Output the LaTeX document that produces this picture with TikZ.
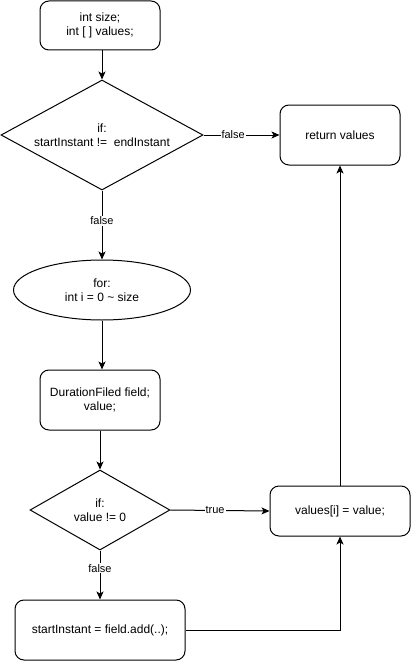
\documentclass[tikz,border=0pt]{standalone}
\usepackage{fontspec}
\setmainfont{Liberation Sans}
\usetikzlibrary{shapes.geometric,arrows.meta}
\begin{document}
\begin{tikzpicture}[x=1pt,y=-1pt,line width=1pt,
  txt/.style={font=\fontsize{12}{14.5}\selectfont,align=center,inner sep=0pt},
  proc/.style={draw,rounded corners=9pt,txt,minimum width=#1},
  dec/.style={draw,diamond,inner sep=0pt},
  arr/.style={-{Stealth[length=8pt,width=7pt,inset=2pt]}},
  lbl/.style={font=\fontsize{11}{13}\selectfont,fill=white,inner sep=1pt}]
\useasboundingbox (0,0) rectangle (411,661);

% process boxes
\node[proc=120,minimum height=49] (init) at (100,25.5) {int size;\\int [ ] values;};
\node[proc=120,minimum height=60] (ret) at (340,135) {return values};
\node[proc=120,minimum height=60] (decl) at (100,400) {DurationFiled field;\\value;};
\node[proc=140,minimum height=50] (assign) at (340,511) {values[i] = value;};
\node[proc=170,minimum height=60] (advance) at (100,630) {startInstant = field.add(..);};

% decisions
\node[dec,minimum width=202,minimum height=110] (check) at (102,135) {};
\node[txt] (checktxt) at (102,135) {if:\\startInstant !=\ \ endInstant};
\node[dec,minimum width=140,minimum height=80] (zero) at (100,510) {};
\node[txt] (zerotxt) at (100,510) {if:\\value != 0};

% loop header
\node[draw,ellipse,txt,minimum width=177,minimum height=60] (loop) at (102,290) {for:\\int i = 0 \textasciitilde{} size};

% connectors
\draw[arr] (init.south -| check.north) -- (check.north);
\draw[arr] (check.east) -- node[lbl,pos=0.39] {false} (ret.west);
\draw[arr] (check.south) -- node[lbl,pos=0.44] {false} (loop.north);
\draw[arr] (loop.south) -- (loop.south |- decl.north);
\draw[arr] (decl.south) -- (zero.north);
\draw[arr] (zero.east) -- node[lbl,pos=0.45] {true} (assign.west);
\draw[arr] (zero.south) -- node[lbl,pos=0.36] {false} (advance.north);
\draw[arr] (advance.east) -| (assign.south);
\draw[arr] (assign.north) -- (ret.south);
\end{tikzpicture}
\end{document}
